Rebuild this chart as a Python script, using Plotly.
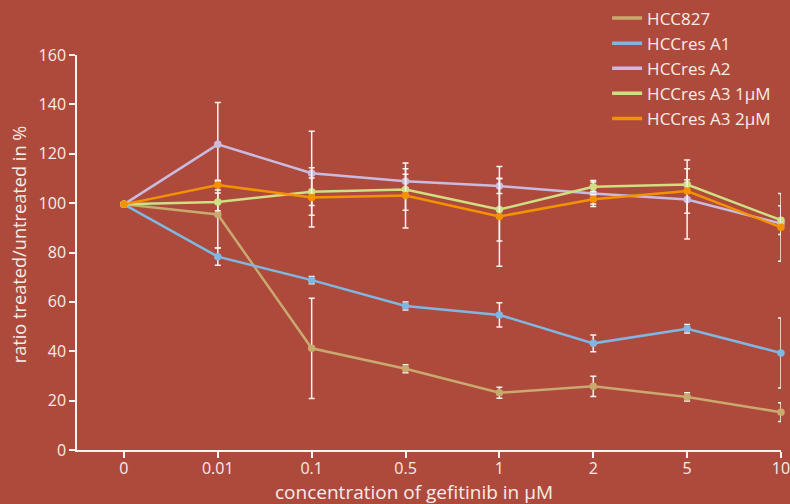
import plotly.graph_objects as go

# concentrations (categorical axis)
concentrations = ["0", "0.01", "0.1", "0.5", "1", "2", "5", "10"]

series_names = ["HCC827", "HCCres A1", "HCCres A2", "HCCres A3 1µM", "HCCres A3 2µM"]

hcc827 = [99.5, 95.4, 41.2, 32.9, 23.2, 25.8, 21.5, 15.3]
hcc827_err = [0, 13.5, 20.3, 1.6, 2.2, 4.1, 1.7, 3.8]

a1 = [99.5, 78.3, 68.8, 58.3, 54.7, 43.2, 49.1, 39.3]
a1_err = [0, 3.5, 1.5, 1.6, 4.9, 3.4, 1.7, 14.2]

a2 = [99.5, 123.8, 112.1, 108.9, 106.9, 103.9, 101.5, 91.7]
a2_err = [0, 17, 17, 2.8, 3, 5.3, 16, 2]

a3_1um = [99.5, 100.5, 104.6, 105.5, 97.4, 106.6, 107.5, 93.1]
a3_1um_err = [0, 3.6, 5.6, 8.4, 12.7, 2, 2, 5.8]

a3_2um = [99.5, 107.3, 102.3, 103.1, 94.6, 101.6, 104.9, 90.2]
a3_2um_err = [0, 2, 12, 13.2, 20.2, 2, 9, 13.7]

x_title = "concentration of gefitinib in µM"
y_title = "ratio treated/untreated in %"

# =============================================
# Theme
# =============================================
BG = "#AE4A3C"
TEXT = "#F7ECE9"
AXIS = "#FBF3F1"
COLORS = ["#C9A96E", "#7FB6E2", "#C9BBE0", "#CFDF82", "#F39200"]
FONT = "Open Sans, sans-serif"

fig = go.Figure()

all_values = [hcc827, a1, a2, a3_1um, a3_2um]
all_errors = [hcc827_err, a1_err, a2_err, a3_1um_err, a3_2um_err]

for name, vals, errs, color in zip(series_names, all_values, all_errors, COLORS):
    fig.add_trace(go.Scatter(
        x=concentrations,
        y=vals,
        name=name,
        mode="lines+markers",
        line=dict(color=color, width=2.5),
        marker=dict(color=color, size=7.5),
        error_y=dict(type="data", array=errs, visible=True,
                     color=AXIS, thickness=1.5, width=3),
        cliponaxis=False,
        showlegend=False,
    ))

# legend entries drawn as plain lines (no marker), like the original
for name, color in zip(series_names, COLORS):
    fig.add_trace(go.Scatter(
        x=[None], y=[None], name=name, mode="lines",
        line=dict(color=color, width=3.5),
        showlegend=True, hoverinfo="skip",
    ))

axis_style = dict(
    showgrid=False,
    zeroline=False,
    showline=True,
    linecolor=AXIS,
    linewidth=1.5,
    ticks="outside",
    ticklen=6,
    tickcolor=AXIS,
    tickwidth=1.5,
    tickfont=dict(size=16, color=TEXT),
)

fig.update_layout(
    width=790,
    height=504,
    paper_bgcolor=BG,
    plot_bgcolor=BG,
    font=dict(family=FONT, color=TEXT, size=16),
    margin=dict(l=77, r=9, t=55, b=54, autoexpand=False),
    showlegend=True,
    legend=dict(
        x=0.753, y=1.138, xanchor="left", yanchor="top",
        bgcolor="rgba(0,0,0,0)",
        font=dict(size=17, color=TEXT),
        tracegroupgap=0,
    ),
    xaxis=dict(type="category", range=[-0.5, 7], ticklabelstandoff=-3, **axis_style),
    yaxis=dict(range=[0, 160], dtick=20, **axis_style),
)

# axis titles placed like the original figure
fig.add_annotation(
    text=x_title, xref="paper", yref="paper",
    x=0.479, y=-0.1075, xanchor="center", yanchor="middle",
    showarrow=False, font=dict(size=19, color=TEXT),
)
fig.add_annotation(
    text=y_title, xref="paper", yref="paper", textangle=-90,
    x=-0.082, y=0.5215, xanchor="center", yanchor="middle",
    showarrow=False, font=dict(size=18.2, color=TEXT),
)

fig.write_html(
    "out.html",
    config={"displayModeBar": False},
    post_script="document.body.style.margin='0';",
)
